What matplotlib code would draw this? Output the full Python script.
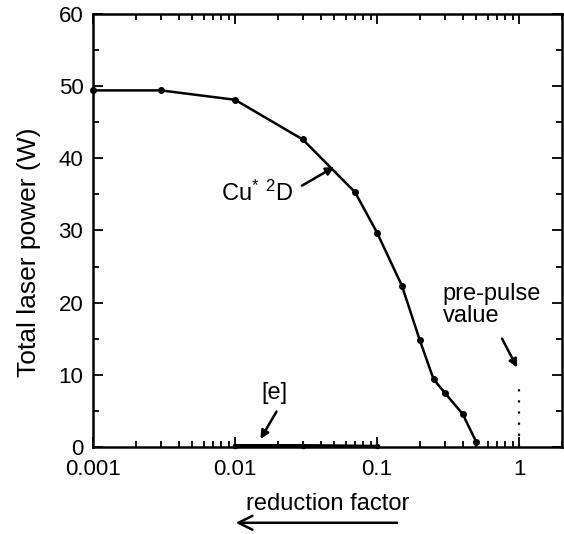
import matplotlib
matplotlib.use("Agg")
import matplotlib.pyplot as plt
from matplotlib.ticker import LogLocator, NullFormatter, FixedLocator, MultipleLocator

plt.rcParams['font.family'] = ['Liberation Sans', 'DejaVu Sans']
plt.rcParams['mathtext.fontset'] = 'custom'
plt.rcParams['mathtext.rm'] = 'Liberation Sans'
plt.rcParams['mathtext.it'] = 'Liberation Sans'

# Cu* 2D curve
cu_x = [0.001, 0.003, 0.01, 0.03, 0.07, 0.1, 0.15, 0.2, 0.25, 0.3, 0.4, 0.5]
cu_y = [49.4, 49.4, 48.1, 42.6, 35.3, 29.7, 22.3, 14.8, 9.4, 7.5, 4.6, 0.7]

# [e] curve
e_x = [0.01, 0.03, 0.1]
e_y = [0.2, 0.2, 0.1]

# pre-pulse value marker
pre_x = [1, 1]
pre_y = [0, 8.4]

xticks = [0.001, 0.01, 0.1, 1]
xtick_labels = ['0.001', '0.01', '0.1', '1']
yticks = [0, 10, 20, 30, 40, 50, 60]

fig = plt.figure(figsize=(5.64, 5.34), dpi=100)
ax = fig.add_axes([0.165, 0.163, 0.831, 0.811])

ax.plot(cu_x, cu_y, '-', color='black', lw=1.8, marker='o', ms=4, clip_on=False, zorder=3)
ax.plot(e_x, e_y, '-', color='black', lw=2.2, marker='o', ms=3, clip_on=False, zorder=3)
ax.plot(pre_x, pre_y, linestyle=(0, (1, 4)), color='black', lw=1.6)

ax.set_xscale('log')
ax.set_xlim(0.001, 2)
ax.set_ylim(0, 60)
ax.xaxis.set_major_locator(FixedLocator(xticks))
ax.set_xticklabels(xtick_labels)
ax.xaxis.set_minor_locator(LogLocator(base=10, subs=range(2, 10), numticks=20))
ax.xaxis.set_minor_formatter(NullFormatter())
ax.set_yticks(yticks)
ax.yaxis.set_minor_locator(MultipleLocator(5))

ax.tick_params(which='both', direction='in', top=True, right=True, labelsize=16, width=1.3)
ax.tick_params(axis='y', pad=7)
ax.tick_params(axis='x', pad=9)
ax.tick_params(which='major', length=7)
ax.tick_params(which='minor', length=4)
for s in ax.spines.values():
    s.set_linewidth(1.8)

ax.set_ylabel('Total laser power (W)', fontsize=19)
ax.yaxis.set_label_coords(-0.112, 0.45)
ax.set_xlabel('reduction factor', fontsize=17, labelpad=9)

ap = dict(arrowstyle='-|>', color='black', lw=1.8, mutation_scale=12, shrinkA=0, shrinkB=0)
ax.annotate('', xy=(0.05, 38.8), xytext=(0.0296, 36.2), arrowprops=ap)
ax.text(0.0256, 35.2, r'Cu$^{*}$ $^{2}$D', fontsize=17, ha='right', va='center')
ax.annotate('', xy=(0.0151, 1.1), xytext=(0.0196, 4.9), arrowprops=ap)
ax.text(0.019, 7.5, '[e]', fontsize=17, ha='center', va='center')
ax.annotate('', xy=(0.97, 11.0), xytext=(0.76, 15.0), arrowprops=ap)
ax.text(0.29, 19.7, 'pre-pulse\nvalue', fontsize=17, ha='left', va='center', linespacing=1.0)

fig.patches.append(matplotlib.patches.FancyArrowPatch(
    (0.709, 0.021), (0.413, 0.021), transform=fig.transFigure,
    arrowstyle='->', mutation_scale=25, lw=1.8, color='black'))

fig.savefig('out.png', dpi=100)
